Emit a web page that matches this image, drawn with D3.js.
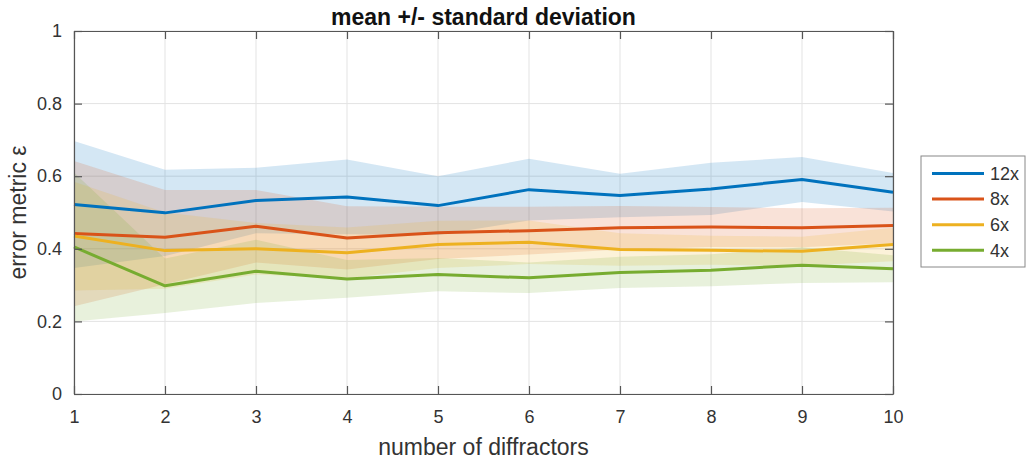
<!DOCTYPE html>
<html>
<head>
<meta charset="utf-8">
<script src="https://cdn.jsdelivr.net/npm/d3@7"></script>
<style>
  body { margin: 0; background: #fff; }
  svg { font-family: "Liberation Sans", Arial, sans-serif; }
</style>
</head>
<body>
<div id="chart"></div>
<script>
// number of diffractors
const diffractors = [1, 2, 3, 4, 5, 6, 7, 8, 9, 10];

// mean error metric per magnification
const mean12x = [0.522, 0.499, 0.533, 0.543, 0.519, 0.563, 0.547, 0.565, 0.591, 0.556];
const mean8x = [0.442, 0.432, 0.462, 0.430, 0.444, 0.450, 0.458, 0.460, 0.458, 0.464];
const mean6x = [0.435, 0.395, 0.400, 0.389, 0.412, 0.418, 0.398, 0.396, 0.393, 0.412];
const mean4x = [0.405, 0.298, 0.338, 0.317, 0.329, 0.320, 0.335, 0.341, 0.355, 0.345];

// standard deviation per magnification
const std12x = [0.175, 0.119, 0.090, 0.103, 0.081, 0.085, 0.060, 0.072, 0.062, 0.053];
const std8x = [0.200, 0.130, 0.100, 0.087, 0.072, 0.066, 0.060, 0.055, 0.054, 0.049];
const std6x = [0.150, 0.105, 0.071, 0.070, 0.065, 0.060, 0.045, 0.040, 0.040, 0.046];
const std4x = [0.205, 0.075, 0.087, 0.052, 0.046, 0.042, 0.043, 0.044, 0.049, 0.037];

const seriesNames = ['12x', '8x', '6x', '4x'];
const xTicks = [1, 2, 3, 4, 5, 6, 7, 8, 9, 10];
const yTicks = [0, 0.2, 0.4, 0.6, 0.8, 1];

const colors = ['#0072BD', '#D95319', '#EDB120', '#77AC30'];
const means = [mean12x, mean8x, mean6x, mean4x];
const stds = [std12x, std8x, std6x, std4x];

const series = seriesNames.map((name, i) => ({
  name: name,
  color: colors[i],
  values: diffractors.map((x, j) => ({ x: x, m: means[i][j], s: stds[i][j] }))
}));

const width = 1026;
const height = 459;
const margin = { top: 31, right: 133, bottom: 65, left: 74 };
const plotW = width - margin.left - margin.right;
const plotH = height - margin.top - margin.bottom;

const axisColor = '#555';
const textColor = '#333';

const svg = d3.select('#chart')
  .append('svg')
  .attr('width', width)
  .attr('height', height);

const g = svg.append('g')
  .attr('transform', `translate(${margin.left},${margin.top})`);

const x = d3.scaleLinear().domain([1, 10]).range([0, plotW]);
const y = d3.scaleLinear().domain([0, 1]).range([plotH, 0]);

// grid
g.append('g').selectAll('line.vgrid')
  .data(xTicks)
  .enter().append('line')
  .attr('x1', d => x(d)).attr('x2', d => x(d))
  .attr('y1', 0).attr('y2', plotH)
  .attr('stroke', '#e3e3e3').attr('stroke-width', 1);
g.append('g').selectAll('line.hgrid')
  .data(yTicks)
  .enter().append('line')
  .attr('x1', 0).attr('x2', plotW)
  .attr('y1', d => y(d)).attr('y2', d => y(d))
  .attr('stroke', '#e3e3e3').attr('stroke-width', 1);

// bands
const area = d3.area()
  .x(d => x(d.x))
  .y0(d => y(d.m - d.s))
  .y1(d => y(d.m + d.s));

g.selectAll('path.band')
  .data(series)
  .enter().append('path')
  .attr('class', 'band')
  .attr('d', d => area(d.values))
  .attr('fill', d => d.color)
  .attr('fill-opacity', 0.17)
  .attr('stroke', 'none');

// mean lines
const line = d3.line()
  .x(d => x(d.x))
  .y(d => y(d.m));

g.selectAll('path.mean')
  .data(series)
  .enter().append('path')
  .attr('class', 'mean')
  .attr('d', d => line(d.values))
  .attr('fill', 'none')
  .attr('stroke', d => d.color)
  .attr('stroke-width', 3)
  .attr('stroke-linejoin', 'round');

// axes (box with inward ticks)
const tickLen = 8;
const xBottom = d3.axisBottom(x).tickValues(xTicks).tickSizeInner(-tickLen).tickSizeOuter(0).tickPadding(16).tickFormat(d3.format('d'));
const xTop = d3.axisTop(x).tickValues(xTicks).tickSizeInner(-tickLen).tickSizeOuter(0).tickFormat('');
const yLeft = d3.axisLeft(y).tickValues(yTicks).tickSizeInner(-tickLen).tickSizeOuter(0).tickPadding(12)
  .tickFormat(d => d === 0 || d === 1 ? d3.format('d')(d) : d3.format('.1f')(d));
const yRight = d3.axisRight(y).tickValues(yTicks).tickSizeInner(-tickLen).tickSizeOuter(0).tickFormat('');

function styleAxis(sel) {
  sel.select('.domain').attr('stroke', axisColor).attr('stroke-width', 1.2);
  sel.selectAll('.tick line').attr('stroke', axisColor).attr('stroke-width', 1.2);
  sel.selectAll('.tick text').attr('fill', textColor).style('font-size', '18px');
}

g.append('g').attr('transform', `translate(0,${plotH})`).call(xBottom).call(styleAxis);
g.append('g').call(xTop).call(styleAxis);
g.append('g').call(yLeft).call(styleAxis);
g.append('g').attr('transform', `translate(${plotW},0)`).call(yRight).call(styleAxis);

// title and labels
svg.append('text')
  .attr('x', margin.left + plotW / 2)
  .attr('y', 25)
  .attr('text-anchor', 'middle')
  .attr('fill', '#111')
  .style('font-size', '23px')
  .style('font-weight', 'bold')
  .text('mean +/- standard deviation');

svg.append('text')
  .attr('x', margin.left + plotW / 2)
  .attr('y', 455)
  .attr('text-anchor', 'middle')
  .attr('fill', textColor)
  .style('font-size', '23px')
  .text('number of diffractors');

svg.append('text')
  .attr('transform', `translate(26,${margin.top + plotH / 2}) rotate(-90)`)
  .attr('text-anchor', 'middle')
  .attr('fill', textColor)
  .style('font-size', '23px')
  .text('error metric ε');

// legend
const legend = svg.append('g').attr('transform', 'translate(921,156)');
legend.append('rect')
  .attr('width', 104).attr('height', 111)
  .attr('fill', '#fff')
  .attr('stroke', '#888').attr('stroke-width', 1);

const rows = legend.selectAll('g.row')
  .data(series)
  .enter().append('g')
  .attr('class', 'row')
  .attr('transform', (d, i) => `translate(0,${17.5 + i * 25.6})`);
rows.append('line')
  .attr('x1', 11).attr('x2', 63)
  .attr('stroke', d => d.color)
  .attr('stroke-width', 3);
rows.append('text')
  .attr('x', 69)
  .attr('dy', '0.35em')
  .attr('fill', textColor)
  .style('font-size', '18px')
  .text(d => d.name);
</script>
</body>
</html>
